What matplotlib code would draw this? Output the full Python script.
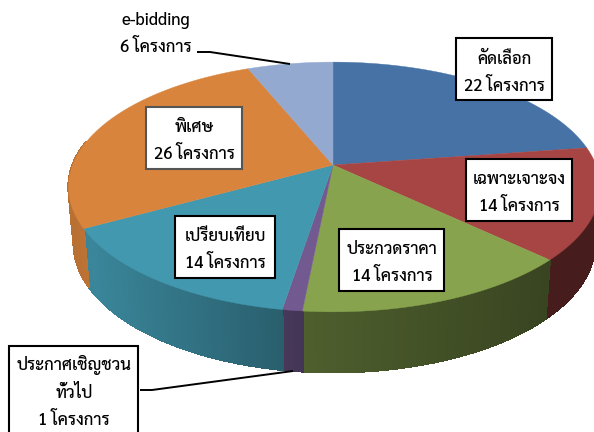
"""3D-look pie of project counts by procurement method."""
import numpy as np
import matplotlib
matplotlib.use("Agg")
import matplotlib.pyplot as plt
from matplotlib.collections import PolyCollection
from matplotlib.colors import to_rgb
from matplotlib.patches import Polygon, Rectangle

plt.rcParams["font.family"] = ["Sarabun", "Noto Sans Thai", "DejaVu Sans"]

methods = ["คัดเลือก", "เฉพาะเจาะจง", "ประกวดราคา", "ประกาศเชิญชวน\nทั่วไป",
           "เปรียบเทียบ", "พิเศษ", "e-bidding"]
projects = [22, 14, 14, 1, 14, 26, 6]
colors = ["#4672a6", "#a64543", "#87a34e", "#725a90", "#4298af", "#d9843c", "#93a9cf"]

# label boxes in pixels: left, top, right, bottom (None = no frame)
boxes = [(456, 38, 552, 100), (466, 159, 572, 221), (339, 229, 444, 291),
         (9, 346, 138, 440), (175, 216, 275, 278), (146, 107, 242, 169), None]
text_xy = [(504, 73), (519, 193), (392, 263), (74, 392), (225, 250), (194, 141), (156, 34)]
leaders = {3: [(140, 390), (152, 390), (293, 371)],
           6: [(197, 52), (210, 52), (290, 64)]}

CX, CY = 333, 165
A, B, K = 263, 121, 0.176  # perspective of the pie's top plane


def top(theta):
    u, v = np.sin(theta), np.cos(theta)
    w = 1 + K * v
    a = np.where(u < 0, A * 0.99, A)  # left half sits a bit tighter
    return CX + a * u / w, CY - B * v / w


def bottom(theta):
    x, y = top(theta)
    return CX + (x - CX) * 0.98, CY + (y - CY) * 1.03 + 56


def side_shade(x):
    # side wall gets darker going right
    return np.interp(x, [70, 90, 285, 305, 549, 600], [0.85, 0.88, 0.62, 0.58, 0.42, 0.42])


fig = plt.figure(figsize=(5.94, 4.32), dpi=100)
ax = fig.add_axes([0, 0, 1, 1])
ax.set_xlim(0, 594)
ax.set_ylim(432, 0)
ax.axis("off")

edges = np.cumsum([0] + projects) / sum(projects) * 2 * np.pi

# side walls, only the front half of the ring shows
quads, quad_colors = [], []
for i, c in enumerate(colors):
    a0, a1 = max(edges[i], np.pi / 2), min(edges[i + 1], 1.5 * np.pi + 0.2)
    if a1 <= a0:
        continue
    t = np.linspace(a0, a1, max(int((a1 - a0) * 120), 2))
    for t0, t1 in zip(t[:-1], t[1:]):
        x0, y0 = top(t0)
        x1, y1 = top(t1)
        x2, y2 = bottom(t1)
        x3, y3 = bottom(t0)
        quads.append([(x0, y0), (x1, y1), (x2, y2), (x3, y3)])
        quad_colors.append(np.array(to_rgb(c)) * side_shade((x0 + x1) / 2))
ax.add_collection(PolyCollection(quads, facecolors=quad_colors, edgecolors=quad_colors,
                                 linewidths=1.0, antialiaseds=False, zorder=1))

# top faces
for i, c in enumerate(colors):
    t = np.linspace(edges[i], edges[i + 1], 80)
    x, y = top(t)
    pts = np.column_stack([np.r_[CX, x], np.r_[CY, y]])
    ax.add_patch(Polygon(pts, closed=True, facecolor=c, edgecolor=c, lw=0.3, zorder=2))

for i, name in enumerate(methods):
    if boxes[i] is not None:
        l, t, r, b = boxes[i]
        edge = "#555555" if name == "พิเศษ" else "black"
        ax.add_patch(Rectangle((l, t), r - l, b - t, facecolor="white", edgecolor=edge,
                               lw=1.5, zorder=3, clip_on=True))
    ax.text(text_xy[i][0], text_xy[i][1], f"{name}\n{projects[i]} โครงการ", ha="center",
            va="center", ma="center", fontsize=12, fontweight=500, color="black",
            linespacing=1.8, zorder=4)
    if i in leaders:
        lx, ly = zip(*leaders[i])
        ax.plot(lx, ly, color="black", lw=1.4, zorder=4, solid_capstyle="butt")

fig.savefig("out.png", dpi=100)
